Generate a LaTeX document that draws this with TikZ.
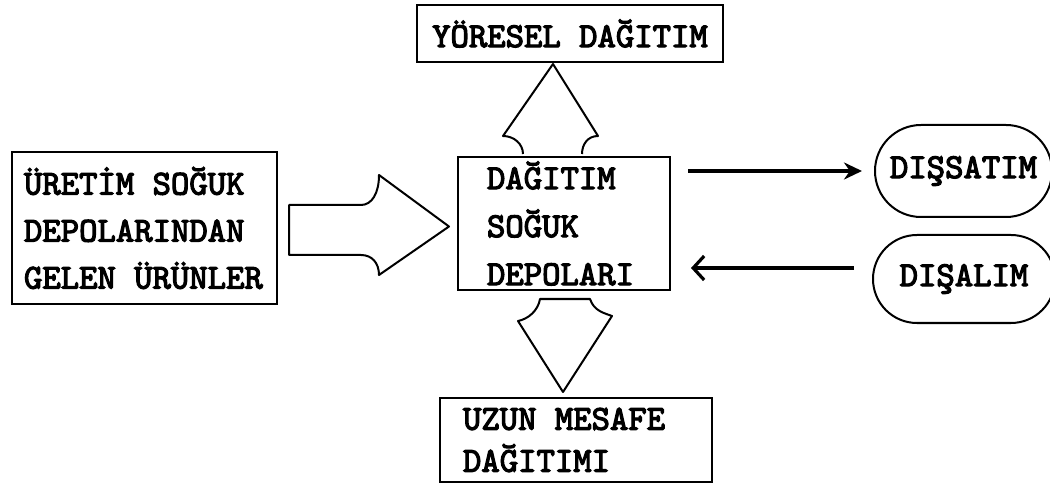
\documentclass[tikz,border=0pt]{standalone}
\usepackage{fontspec}
\newfontfamily\typewriter{lmmono10-regular.otf}[AutoFakeBold=3.4]
\newcommand\gap{\hspace*{0.525em}}
\usetikzlibrary{arrows.meta,shapes.misc,calc}
\begin{document}
\begin{tikzpicture}[x=1bp,y=-1bp,
  txt/.style={font=\typewriter\bfseries\fontsize{35bp}{#1}\selectfont},
  txt/.default={47bp},
  panel/.style={draw,line width=2bp,rectangle,inner sep=0pt,align=left},
  pill/.style={draw,line width=2bp,rounded rectangle,inner sep=0pt,txt},
  block/.style={draw,line width=2bp,line join=round},
  flow/.style={line width=3.2bp}]
\useasboundingbox (0,0) rectangle (1050,485);
\fill[white] (0,0) rectangle (1050,485);

% boxes
\node[panel,txt,minimum width=265bp,minimum height=152bp,text width=241bp]
  (src) at (144.5,228) {ÜRETİM\gap SOĞUK\\DEPOLARINDAN\\GELEN\gap ÜRÜNLER};
\node[panel,txt=48bp,minimum width=212bp,minimum height=133bp,text width=154bp]
  (hub) at (564,223.5) {DAĞITIM\\SOĞUK\\DEPOLARI};
\node[panel,txt,minimum width=306bp,minimum height=57bp]
  (reg) at (570,33.5) {YÖRESEL\gap DAĞITIM};
\node[panel,txt=42bp,minimum width=272bp,minimum height=84bp,text width=226bp]
  (far) at (576,440) {UZUN\gap MESAFE\\DAĞITIMI};
\node[pill,minimum width=177bp,minimum height=92bp] (exp) at (963.5,171) {DIŞSATIM};
\node[pill,minimum width=182bp,minimum height=88bp] (imp) at (964,279) {DIŞALIM};

% block arrow: products into the distribution stores
\begin{scope}[shift={(src.east)}]
  \draw[block] (11,-23) -- (83,-23) .. controls (94,-23) and (101,-35) .. (101,-53)
    -- ($(hub.west)+(-8,3)$)
    -- (101,47) .. controls (101,35) and (94,27) .. (83,27) -- (11,27) -- cycle;
\end{scope}

% block arrow: up to regional distribution
\begin{scope}[shift={(hub.north)}]
  \draw[block] (-41,-2) .. controls (-41,-12) and (-50,-20) .. (-61,-20)
    -- ($(reg.south)+(-17,1)$)
    -- (34,-20) .. controls (24,-20) and (18,-12) .. (18,-2);
\end{scope}

% block arrow: down to long-distance distribution
\begin{scope}[shift={(hub.south)}]
  \draw[block] (-24,8) .. controls (-26,20) and (-36,28) .. (-46,30)
    -- ($(far.north)+(-13,-5)$)
    -- (48,25) .. controls (40,22) and (30,20) .. (26,8) -- cycle;
\end{scope}

% export and import
\draw[flow,-{Stealth[length=18bp,width=17bp]},shorten <=17bp,shorten >=12bp]
  (hub.east |- exp.west) -- (exp.west);
\coordinate (inA) at ($(imp.west)+(0,-11)$);
\draw[flow,-{Straight Barb[length=11bp,width=24bp]},shorten <=18bp,shorten >=20bp]
  (inA) -- (hub.east |- inA);
\end{tikzpicture}
\end{document}
